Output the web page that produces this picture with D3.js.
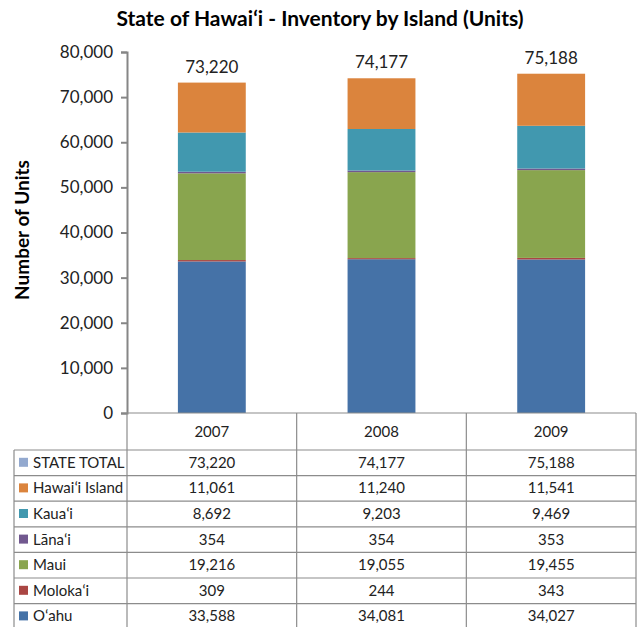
<!DOCTYPE html>
<html>
<head>
<meta charset="utf-8">
<script src="https://cdn.jsdelivr.net/npm/d3@7"></script>
<style>
  body { margin: 0; background: #fff; }
  svg { display: block; font-family: "Lato", "Open Sans", sans-serif; }
</style>
</head>
<body>
<svg id="chart" width="641" height="627"></svg>
<script>
// Years on the x axis
var years = ["2007", "2008", "2009"];

// Series, bottom of the stack first
var oahu = [33588, 34081, 34027];
var molokai = [309, 244, 343];
var maui = [19216, 19055, 19455];
var lanai = [354, 354, 353];
var kauai = [8692, 9203, 9469];
var hawaiiIsland = [11061, 11240, 11541];
var stateTotal = [73220, 74177, 75188];

var yTicks = [0, 10000, 20000, 30000, 40000, 50000, 60000, 70000, 80000];

var series = [
    { name: "O\u02bbahu", values: oahu, color: "#4572a7" },
    { name: "Moloka\u02bbi", values: molokai, color: "#aa4643" },
    { name: "Maui", values: maui, color: "#89a54e" },
    { name: "L\u0101na\u02bbi", values: lanai, color: "#71588f" },
    { name: "Kaua\u02bbi", values: kauai, color: "#4198af" },
    { name: "Hawai\u02bbi Island", values: hawaiiIsland, color: "#db843d" }
];

// table rows, top to bottom
var tableRows = [{ name: "STATE TOTAL", values: stateTotal, color: "#93a9cf" }]
    .concat(series.slice().reverse());

var svg = d3.select("#chart");
var fmt = d3.format(",");

var plotLeft = 127, plotRight = 636, plotTop = 52, plotBottom = 413;
var rowH = 25.6, headerH = 37, tableLeft = 14;

var x = d3.scaleBand().domain(years).range([plotLeft, plotRight]).paddingInner(0.6).paddingOuter(0.3);
var y = d3.scaleLinear().domain([0, 80000]).range([plotBottom, plotTop]);

// title
svg.append("text")
    .attr("x", 320).attr("y", 26)
    .attr("text-anchor", "middle")
    .style("font-size", "21px").style("font-weight", "bold")
    .text("State of Hawai\u02bbi - Inventory by Island (Units)");

// y axis label
svg.append("text")
    .attr("transform", "translate(29,230) rotate(-90)")
    .attr("text-anchor", "middle")
    .style("font-size", "19px").style("font-weight", "bold")
    .text("Number of Units");

// stacked bars
var stackData = years.map(function(yr, i) {
    var row = { year: yr };
    series.forEach(function(s) { row[s.name] = s.values[i]; });
    return row;
});
var stack = d3.stack().keys(series.map(function(s) { return s.name; }));
var layers = stack(stackData);

svg.append("g").selectAll("g").data(layers).enter().append("g")
    .attr("fill", function(d, i) { return series[i].color; })
    .selectAll("rect").data(function(d) { return d; }).enter().append("rect")
    .attr("x", function(d) { return x(d.data.year); })
    .attr("width", x.bandwidth())
    .attr("y", function(d) { return y(d[1]); })
    .attr("height", function(d) { return y(d[0]) - y(d[1]); });

// totals above bars
svg.append("g").selectAll("text").data(years).enter().append("text")
    .attr("x", function(d) { return x(d) + x.bandwidth() / 2; })
    .attr("y", function(d, i) { return y(stateTotal[i]) - 10; })
    .attr("text-anchor", "middle")
    .style("font-size", "17px").attr("fill", "#222")
    .text(function(d, i) { return fmt(stateTotal[i]); });

// y axis
var yAxis = svg.append("g")
    .attr("transform", "translate(" + plotLeft + ",0)")
    .call(d3.axisLeft(y).tickValues(yTicks).tickFormat(fmt).tickSize(6).tickPadding(8));
yAxis.select(".domain").attr("stroke", "#868686").attr("stroke-width", 2);
yAxis.selectAll(".tick line").attr("stroke", "#868686").attr("stroke-width", 2);
yAxis.selectAll(".tick text").style("font-size", "17px").attr("fill", "#222")
    .style("font-family", "Lato, 'Open Sans', sans-serif");

// data table
var table = svg.append("g");
var colEdges = [plotLeft].concat(years.map(function(d, i) { return plotLeft + (plotRight - plotLeft) * (i + 1) / 3; }));
var tableBottom = plotBottom + headerH + rowH * tableRows.length;

// header
table.selectAll(".hdr").data(years).enter().append("text")
    .attr("x", function(d, i) { return (colEdges[i] + colEdges[i + 1]) / 2; })
    .attr("y", plotBottom + headerH / 2 + 5)
    .attr("text-anchor", "middle")
    .style("font-size", "15px").attr("fill", "#222")
    .text(function(d) { return d; });

// horizontal lines
var lineYs = [plotBottom].concat(tableRows.map(function(r, i) { return plotBottom + headerH + rowH * i; }));
table.selectAll(".hl").data(lineYs).enter().append("line")
    .attr("x1", function(d, i) { return i === 0 ? plotLeft : tableLeft; })
    .attr("x2", plotRight)
    .attr("y1", function(d) { return d; }).attr("y2", function(d) { return d; })
    .attr("stroke", "#8c8c8c").attr("stroke-width", 1.2);

// vertical lines
table.selectAll(".vl").data(colEdges).enter().append("line")
    .attr("x1", function(d) { return d; }).attr("x2", function(d) { return d; })
    .attr("y1", plotBottom).attr("y2", tableBottom)
    .attr("stroke", "#8c8c8c").attr("stroke-width", 1.2);
table.append("line")
    .attr("x1", tableLeft).attr("x2", tableLeft)
    .attr("y1", plotBottom + headerH).attr("y2", tableBottom)
    .attr("stroke", "#8c8c8c").attr("stroke-width", 1.2);

var rows = table.selectAll(".row").data(tableRows).enter().append("g")
    .attr("transform", function(d, i) { return "translate(0," + (plotBottom + headerH + rowH * i) + ")"; });

rows.append("rect")
    .attr("x", tableLeft + 5).attr("y", rowH / 2 - 5)
    .attr("width", 9).attr("height", 9)
    .attr("fill", function(d) { return d.color; });

rows.append("text")
    .attr("x", tableLeft + 19).attr("y", rowH / 2 + 5)
    .style("font-size", "15px").attr("fill", "#222")
    .text(function(d) { return d.name; });

rows.selectAll(".val").data(function(d) { return d.values; }).enter().append("text")
    .attr("x", function(d, i) { return (colEdges[i] + colEdges[i + 1]) / 2; })
    .attr("y", rowH / 2 + 5)
    .attr("text-anchor", "middle")
    .style("font-size", "15px").attr("fill", "#222")
    .text(function(d) { return fmt(d); });
</script>
</body>
</html>
